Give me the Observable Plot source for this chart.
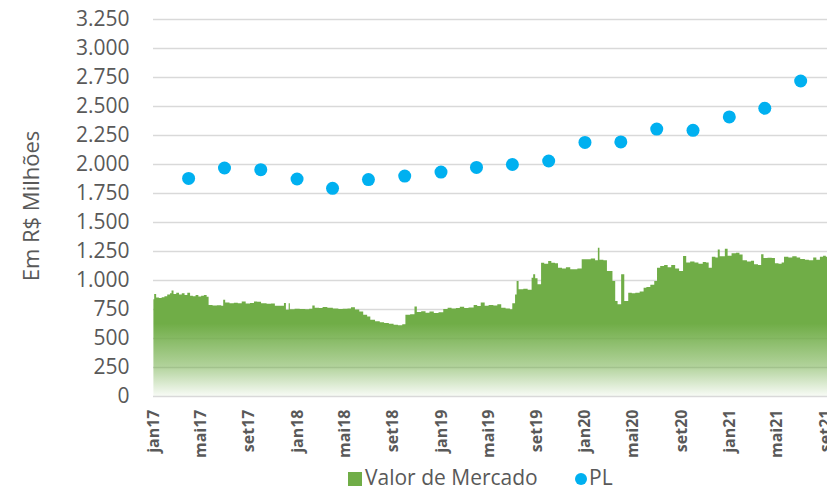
<!DOCTYPE html>
<html><head><meta charset="utf-8">
<script src="https://cdn.jsdelivr.net/npm/d3@7"></script>
<script src="https://cdn.jsdelivr.net/npm/@observablehq/plot@0.6"></script>
<style>
body{margin:0;background:#fff;font-family:"Open Sans",sans-serif;}
#chart{position:relative;width:827px;height:492px;overflow:hidden}
#chart svg{position:absolute;left:0;top:0}
[aria-label^="x-axis"] text{font-weight:bold;font-size:16px}
.leg{position:absolute;font-size:21px;line-height:normal;color:#595959;white-space:nowrap}
</style></head><body><div id="chart"></div>
<script>
const mvDates = ["2017-01-02","2017-01-04","2017-01-09","2017-01-16","2017-01-23","2017-01-30","2017-02-06","2017-02-13","2017-02-17","2017-02-22","2017-03-01","2017-03-08","2017-03-15","2017-03-22","2017-03-29","2017-04-05","2017-04-12","2017-04-19","2017-04-26","2017-05-03","2017-05-10","2017-05-17","2017-05-22","2017-06-01","2017-06-12","2017-06-23","2017-06-28","2017-07-03","2017-07-14","2017-07-25","2017-08-04","2017-08-14","2017-08-24","2017-09-04","2017-09-14","2017-09-22","2017-10-02","2017-10-16","2017-10-27","2017-11-06","2017-11-17","2017-11-29","2017-12-04","2017-12-11","2017-12-14","2017-12-26","2018-01-08","2018-01-22","2018-02-01","2018-02-09","2018-02-15","2018-02-26","2018-03-07","2018-03-19","2018-04-02","2018-04-16","2018-04-27","2018-05-09","2018-05-18","2018-05-28","2018-06-08","2018-06-18","2018-06-28","2018-07-06","2018-07-18","2018-07-30","2018-08-10","2018-08-22","2018-09-03","2018-09-14","2018-09-25","2018-10-03","2018-10-15","2018-10-26","2018-11-01","2018-11-12","2018-11-23","2018-12-03","2018-12-14","2018-12-26","2019-01-07","2019-01-18","2019-01-28","2019-02-08","2019-02-18","2019-03-01","2019-03-12","2019-03-25","2019-04-03","2019-04-12","2019-04-22","2019-05-02","2019-05-14","2019-05-24","2019-06-03","2019-06-14","2019-06-25","2019-07-01","2019-07-08","2019-07-12","2019-07-17","2019-07-29","2019-08-09","2019-08-19","2019-08-23","2019-08-28","2019-09-03","2019-09-12","2019-09-20","2019-09-30","2019-10-08","2019-10-17","2019-10-25","2019-11-04","2019-11-14","2019-11-25","2019-12-04","2019-12-13","2019-12-24","2020-01-06","2020-01-16","2020-01-27","2020-02-03","2020-02-07","2020-02-17","2020-02-26","2020-03-05","2020-03-11","2020-03-18","2020-03-24","2020-04-02","2020-04-10","2020-04-20","2020-04-29","2020-05-08","2020-05-19","2020-05-29","2020-06-05","2020-06-15","2020-06-25","2020-07-02","2020-07-10","2020-07-20","2020-07-29","2020-08-07","2020-08-17","2020-08-27","2020-09-03","2020-09-06","2020-09-14","2020-09-24","2020-10-05","2020-10-15","2020-10-26","2020-11-03","2020-11-10","2020-11-18","2020-11-27","2020-12-03","2020-12-08","2020-12-21","2020-12-28","2021-01-07","2021-01-18","2021-01-27","2021-02-04","2021-02-15","2021-02-25","2021-03-05","2021-03-15","2021-03-23","2021-03-29","2021-04-08","2021-04-19","2021-04-27","2021-05-06","2021-05-14","2021-05-20","2021-05-31","2021-06-10","2021-06-21","2021-06-30","2021-07-12","2021-07-22","2021-08-02","2021-08-10","2021-08-19","2021-08-27","2021-09-03","2021-09-06"];
const mvValues = [835,880,850,845,852,860,875,885,910,880,890,875,885,870,890,865,860,870,858,865,870,855,785,780,782,778,830,805,800,803,800,815,798,802,815,812,800,795,798,778,778,802,744,800,748,752,750,748,752,780,760,758,767,760,755,750,752,755,765,745,729,700,686,658,645,635,630,622,615,610,618,700,705,772,725,730,718,728,715,722,750,760,755,758,770,758,762,785,776,805,778,785,780,790,760,755,747,800,876,991,920,925,915,1020,1049,1015,963,1149,1140,1164,1149,1145,1106,1100,1110,1092,1092,1100,1178,1178,1185,1170,1279,1175,1170,1078,1078,991,819,790,1049,819,891,885,891,900,934,940,960,991,1106,1120,1130,1110,1130,1100,1078,1078,1207,1150,1160,1150,1140,1155,1150,1106,1200,1195,1264,1205,1270,1210,1230,1235,1220,1170,1160,1165,1135,1130,1221,1190,1192,1190,1145,1140,1150,1200,1195,1205,1195,1180,1175,1170,1195,1175,1200,1210,1200,1195];
const plDates = ["2017-03-31","2017-06-30","2017-09-30","2017-12-31","2018-03-31","2018-06-30","2018-09-30","2018-12-31","2019-03-31","2019-06-30","2019-09-30","2019-12-31","2020-03-31","2020-06-30","2020-09-30","2020-12-31","2021-03-31","2021-06-30"];
const plValues = [1880,1970,1955,1875,1795,1870,1900,1935,1975,2000,2030,2190,2195,2305,2295,2410,2485,2720];
const yTicks = [0,250,500,750,1000,1250,1500,1750,2000,2250,2500,2750,3000,3250];
const xTickDates = ["2017-01-01","2017-05-01","2017-09-01","2018-01-01","2018-05-01","2018-09-01","2019-01-01","2019-05-01","2019-09-01","2020-01-01","2020-05-01","2020-09-01","2021-01-01","2021-05-01","2021-09-01"];
const monthNames = ["jan","fev","mar","abr","mai","jun","jul","ago","set","out","nov","dez"];
const yTitle = "Em R$ Milhões";
const seriesNames = ["Valor de Mercado","PL"];

const parse = d3.utcParse("%Y-%m-%d");
const mv = mvDates.map((d,i)=>({date: parse(d), value: mvValues[i]}));
const pl = plDates.map((d,i)=>({date: parse(d), value: plValues[i]}));
const ptFmt = d3.formatLocale({decimal: ",", thousands: ".", grouping: [3], currency: ["R$ ", ""]}).format(",");

const chart = Plot.plot({
  width: 827, height: 460,
  marginLeft: 153, marginRight: 0, marginTop: 19, marginBottom: 64,
  style: {fontFamily: '"Open Sans", sans-serif', fontSize: "21px", color: "#595959", background: "transparent", overflow: "visible"},
  x: {type: "utc", domain: [parse("2017-01-01"), parse("2021-09-06")], ticks: xTickDates.map(parse),
      tickFormat: d => monthNames[d.getUTCMonth()] + String(d.getUTCFullYear()).slice(2),
      tickRotate: -90, tickSize: 0, tickPadding: 13, label: null},
  y: {domain: [0, 3250], ticks: yTicks, tickFormat: d => ptFmt(d), tickSize: 0, tickPadding: 24, label: null},
  marks: [
    Plot.ruleY(yTicks, {stroke: "#D9D9D9", strokeWidth: 1.5}),
    Plot.areaY(mv, {x: "date", y: "value", fill: "url(#mvGrad)", curve: "step-after"}),
    Plot.dot(pl, {x: "date", y: "value", r: 6.5, fill: "#00B0F0", stroke: "none"}),
    Plot.text([yTitle], {text: d => d, frameAnchor: "left", textAnchor: "middle", dx: -122, dy: -2, rotate: -90, fontSize: 22, fill: "#595959"})
  ]
});

const ys = chart.scale("y");
const svgNS = "http://www.w3.org/2000/svg";
const defs = document.createElementNS(svgNS, "defs");
const grad = document.createElementNS(svgNS, "linearGradient");
grad.setAttribute("id", "mvGrad");
grad.setAttribute("gradientUnits", "userSpaceOnUse");
grad.setAttribute("x1", 0); grad.setAttribute("x2", 0);
grad.setAttribute("y1", ys.apply(1300)); grad.setAttribute("y2", ys.apply(0));
[[0, 1], [0.52, 1], [0.8, 0.55], [1, 0.05]].forEach(([o, a]) => {
  const s = document.createElementNS(svgNS, "stop");
  s.setAttribute("offset", o); s.setAttribute("stop-color", "#70AD47"); s.setAttribute("stop-opacity", a);
  grad.appendChild(s);
});
defs.appendChild(grad);
chart.insertBefore(defs, chart.firstChild);

const root = document.getElementById("chart");
root.appendChild(chart);

// legend
const sq = document.createElement("div");
sq.style.cssText = "position:absolute;left:348px;top:472px;width:14px;height:14px;background:#70AD47";
root.appendChild(sq);
const t1 = document.createElement("div"); t1.className = "leg"; t1.style.left = "365px"; t1.style.top = "463px"; t1.textContent = seriesNames[0];
root.appendChild(t1);
const ci = document.createElement("div");
ci.style.cssText = "position:absolute;left:575px;top:473px;width:12px;height:12px;border-radius:50%;background:#00B0F0";
root.appendChild(ci);
const t2 = document.createElement("div"); t2.className = "leg"; t2.style.left = "589px"; t2.style.top = "463px"; t2.textContent = seriesNames[1];
root.appendChild(t2);
</script></body></html>
